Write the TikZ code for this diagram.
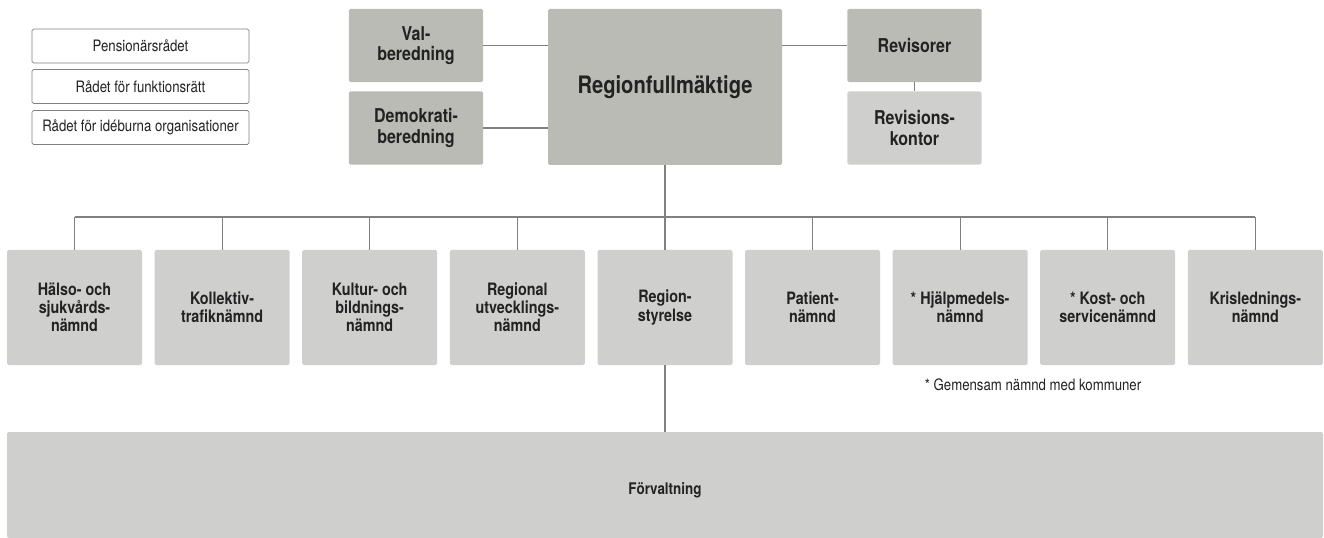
\documentclass[tikz,border=0pt]{standalone}
\usepackage{fontspec}
\setmainfont{TeX Gyre Heros}[FakeStretch=0.84]
\usetikzlibrary{calc}
\definecolor{darkbox}{HTML}{BBBBB6}
\definecolor{lightbox}{HTML}{CFCFCD}
\definecolor{linec}{HTML}{808080}
\definecolor{txt}{HTML}{222222}
\begin{document}
\begin{tikzpicture}[x=0.75pt,y=-0.75pt,
  every node/.style={text=txt, align=center, inner sep=0pt},
  conn/.style={draw=linec, line width=0.8pt},
  smallbox/.style={draw=linec, line width=0.6pt, fill=white, rounded corners=1.2pt,
    minimum width=162.75pt, minimum height=25.5pt, font=\fontsize{11.8}{13}\selectfont},
  topbox/.style={fill=darkbox, rounded corners=1.2pt, minimum width=100.75pt, minimum height=55pt,
    font=\bfseries\fontsize{14.3}{15.3}\selectfont},
  lighttop/.style={topbox, fill=lightbox},
  rfbox/.style={fill=darkbox, rounded corners=1.2pt, minimum width=175.5pt, minimum height=117pt,
    font=\bfseries\fontsize{18}{20}\selectfont},
  unitbox/.style={fill=lightbox, rounded corners=1.2pt, minimum width=101.25pt, minimum height=86.25pt,
    font=\bfseries\fontsize{12.8}{13.6}\selectfont},
  bigbox/.style={fill=lightbox, rounded corners=1.2pt, minimum width=987pt, minimum height=79.5pt}
]
\useasboundingbox (0,0) rectangle (1324,538);

% councils
\node[smallbox] (pens) at (140.5,46) {Pensionärsrådet};
\node[smallbox] (funk) at (140.5,86.5) {Rådet för funktionsrätt};
\node[smallbox] (ide) at (140.5,127.5) {Rådet för idéburna organisationer};

% top
\node[topbox] (val) at (416,45.5) {Val-\\beredning};
\node[topbox] (demo) at (416,128) {Demokrati-\\beredning};
\node[rfbox] (rf) at (665,87) {Regionfullmäktige};
\node[topbox] (rev) at (914.5,45.5) {Revisorer};
\node[lighttop] (revk) at (914.5,128) {Revisions-\\kontor};

\draw[conn] (val.east) -- (val.east -| rf.west);
\draw[conn] (demo.east) -- (demo.east -| rf.west);
\draw[conn] (rf.east |- rev.west) -- (rev.west);
\draw[conn] (rev.south) -- (revk.north);

% units
\node[unitbox] (u0) at (74.5,307.5) {Hälso- och\\sjukvårds-\\nämnd};
\node[unitbox] (u1) at (222.1,307.5) {Kollektiv-\\trafiknämnd};
\node[unitbox] (u2) at (369.7,307.5) {Kultur- och\\bildnings-\\nämnd};
\node[unitbox] (u3) at (517.3,307.5) {Regional\\utvecklings-\\nämnd};
\node[unitbox] (u4) at (665,307.5) {Region-\\styrelse};
\node[unitbox] (u5) at (812.5,307.5) {Patient-\\nämnd};
\node[unitbox] (u6) at (960.1,307.5) {* Hjälpmedels-\\nämnd};
\node[unitbox] (u7) at (1107.7,307.5) {* Kost- och\\servicenämnd};
\node[unitbox] (u8) at (1255.3,307.5) {Krislednings-\\nämnd};

\coordinate (bus) at (665,217);
\draw[conn] (rf.south) -- (bus);
\draw[conn] (u0.north |- bus) -- (u8.north |- bus);
\foreach \i in {0,...,8}{
  \draw[conn] (u\i.north |- bus) -- (u\i.north);
}

\node[font=\fontsize{11.8}{13}\selectfont] (note) at (1033,385) {* Gemensam nämnd med kommuner};

% administration
\node[bigbox, label={[yshift=-3.75pt, text=txt, font=\bfseries\fontsize{12}{14}\selectfont]center:Förvaltning}] (forv) at (665,485) {};
\draw[conn] (u4.south) -- (forv.north);
\end{tikzpicture}
\end{document}
